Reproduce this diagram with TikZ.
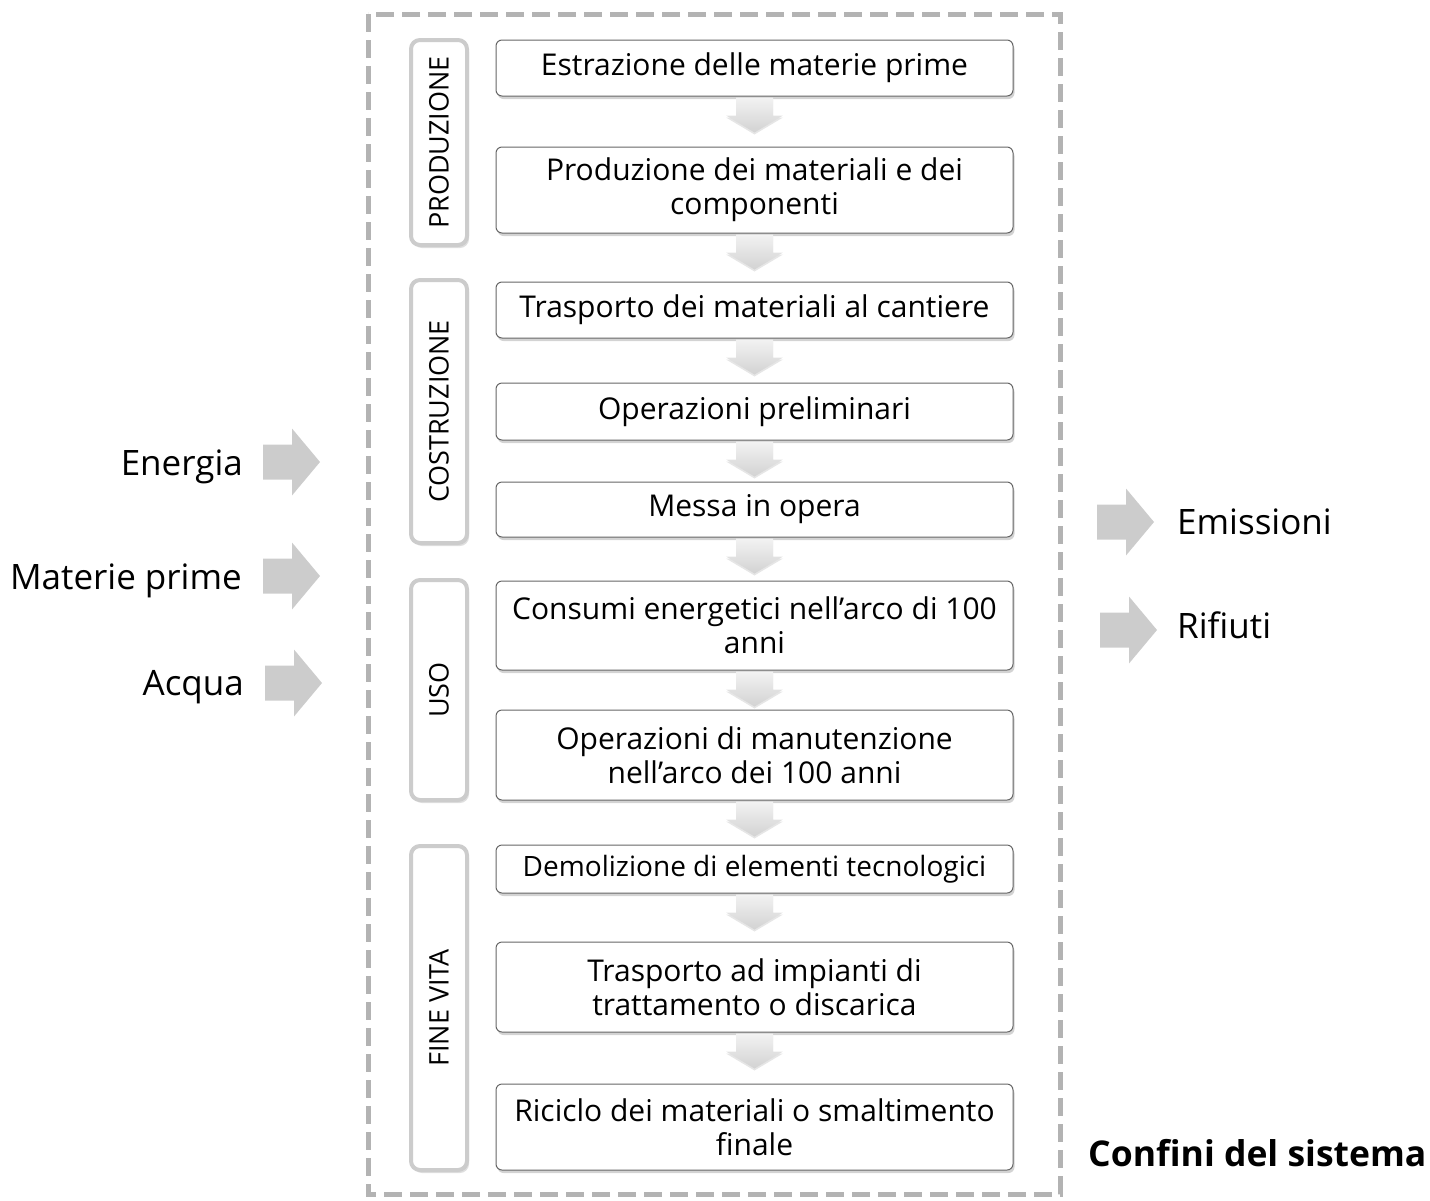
\documentclass[tikz,border=0pt]{standalone}
\usepackage{fontspec}
\setmainfont{Open Sans}
\usetikzlibrary{positioning,shadows}

\definecolor{bordo}{HTML}{B3B3B3}
\definecolor{freccia}{HTML}{CCCCCC}

\tikzset{
  procbox/.style={draw=gray!80!black, line width=1pt, rounded corners=6pt, fill=white,
    minimum width=517pt, align=center, inner sep=0pt,
    font=\fontsize{30}{34}\selectfont,
    drop shadow={shadow xshift=1.5pt, shadow yshift=-3pt, opacity=.35}},
  phasebox/.style={draw=gray!40, line width=4pt, rounded corners=9pt, fill=white,
    minimum height=56pt, inner sep=0pt, rotate=90,
    font=\fontsize{27}{31}\selectfont,
    drop shadow={shadow xshift=2pt, shadow yshift=-3pt, opacity=.25}},
  downarr/.style={top color=gray!10, bottom color=gray!35, draw=none,
    drop shadow={shadow xshift=0pt, shadow yshift=-2pt, opacity=.2}},
  sidearr/.style={fill=freccia, draw=none},
  sidelabel/.style={font=\fontsize{35}{40}\selectfont, inner sep=0pt},
}

% freccia verso il basso, dal centro del lato superiore
\newcommand\giu[1]{%
  \path [downarr] (#1) ++(-18.5,0) -- ++(37,0) -- ++(0,18) -- ++(10,0)
    -- ++(-28.5,17) -- ++(-28.5,-17) -- ++(10,0) -- cycle;}
% freccia verso destra, dal centro della coda
\newcommand\destra[1]{%
  \path [sidearr] (#1) ++(0,-17.5) -- ++(29,0) -- ++(0,-16) -- ++(28,33.5)
    -- ++(-28,33.5) -- ++(0,-16) -- ++(-29,0) -- cycle;}

\begin{document}
\begin{tikzpicture}[x=1pt, y=-1pt]
  \useasboundingbox (0,0) rectangle (1430,1200);
  % confini del sistema
  \draw [bordo, line width=5pt, dash pattern=on 18pt off 8pt] (368,14) rectangle (1060,1194);

  % fasi
  \node [phasebox, minimum width=205pt] (fprod) at (439,142.5) {PRODUZIONE};
  \node [phasebox, minimum width=263pt] (fcost) at (439,411.5) {COSTRUZIONE};
  \node [phasebox, minimum width=220pt] (fuso) at (439,690) {USO};
  \node [phasebox, minimum width=324pt] (ffine) at (439,1008) {FINE VITA};

  % processi
  \node [procbox, minimum height=56pt] (p1) at (754.5,68) {Estrazione delle materie prime};
  \node [procbox, minimum height=86pt] (p2) at (754.5,190) {Produzione dei materiali e dei\\componenti};
  \node [procbox, minimum height=56pt] (p3) at (754.5,310) {Trasporto dei materiali al cantiere};
  \node [procbox, minimum height=57pt] (p4) at (754.5,411.5) {Operazioni preliminari};
  \node [procbox, minimum height=55pt] (p5) at (754.5,509.5) {Messa in opera};
  \node [procbox, minimum height=89pt] (p6) at (754.5,625.5) {Consumi energetici nell’arco di 100\\anni};
  \node [procbox, minimum height=90pt] (p7) at (754.5,755) {Operazioni di manutenzione\\nell’arco dei 100 anni};
  \node [procbox, minimum height=48pt, font=\fontsize{28}{32}\selectfont] (p8) at (754.5,869) {Demolizione di elementi tecnologici};
  \node [procbox, minimum height=90pt] (p9) at (754.5,987) {Trasporto ad impianti di\\trattamento o discarica};
  \node [procbox, minimum height=86pt] (p10) at (754.5,1127) {Riciclo dei materiali o smaltimento\\finale};

  % frecce tra i processi
  \foreach \i in {1,...,9} {
    \coordinate (d\i) at ([yshift=-1pt]p\i.south);
    \giu{d\i}
  }

  % ingressi
  \coordinate (aen) at (263,462);
  \coordinate (amat) at (263,576);
  \coordinate (aacq) at (265,683);
  \destra{aen} \destra{amat} \destra{aacq}
  \node [sidelabel, anchor=east] (len) at ([xshift=-20pt,yshift=-5pt]aen) {Energia};
  \node [sidelabel, anchor=east] (lmat) at ([xshift=-21pt,yshift=-5pt]amat) {Materie prime};
  \node [sidelabel, anchor=east] (lacq) at ([xshift=-21pt,yshift=-4pt]aacq) {Acqua};

  % uscite
  \coordinate (aemi) at (1097,522);
  \coordinate (arif) at (1100,630);
  \destra{aemi} \destra{arif}
  \node [sidelabel, anchor=west] (lemi) at ([xshift=80pt]aemi) {Emissioni};
  \node [sidelabel, anchor=west] (lrif) at ([xshift=77pt,yshift=5pt]arif) {Rifiuti};

  \node [anchor=west, inner sep=0pt, font=\fontsize{35.5}{40}\selectfont\bfseries] (confini) at (1088,1153) {Confini del sistema};
\end{tikzpicture}
\end{document}
